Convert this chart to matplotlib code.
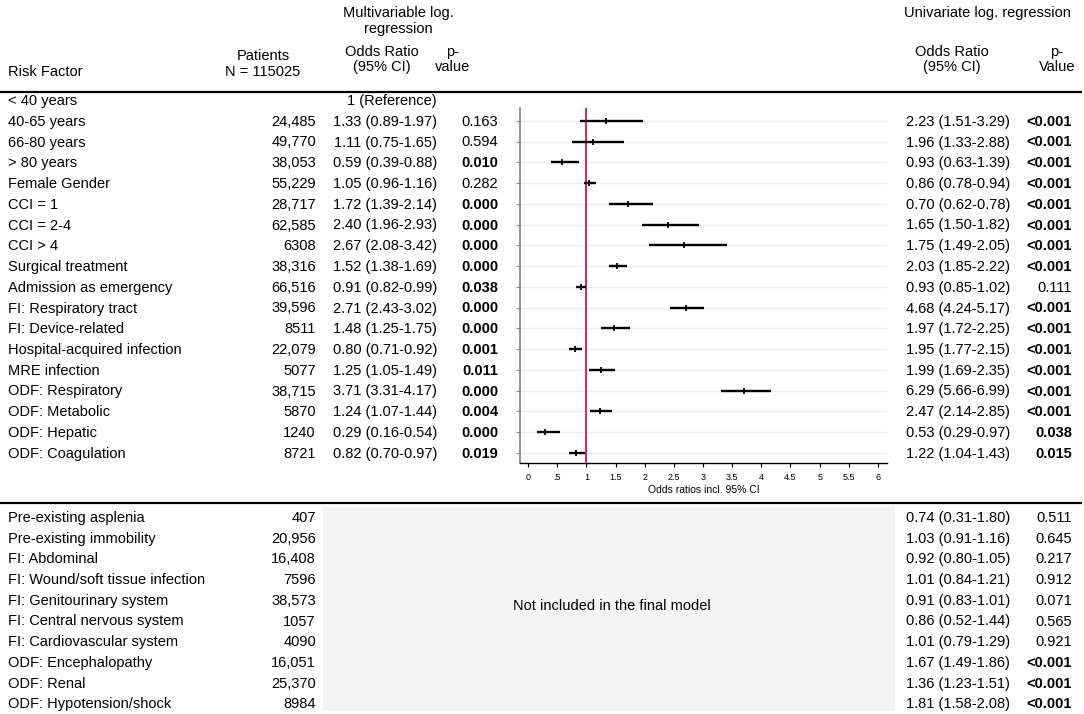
import numpy as np
import matplotlib
matplotlib.use("Agg")
import matplotlib.pyplot as plt
from matplotlib.patches import Rectangle

plt.rcParams['font.family'] = ['Liberation Sans', 'DejaVu Sans']

# ---- data: factors in the final model ----
top_labels = ["< 40 years", "40-65 years", "66-80 years", "> 80 years", "Female Gender",
              "CCI = 1", "CCI = 2-4", "CCI > 4", "Surgical treatment",
              "Admission as emergency", "FI: Respiratory tract", "FI: Device-related",
              "Hospital-acquired infection", "MRE infection", "ODF: Respiratory",
              "ODF: Metabolic", "ODF: Hepatic", "ODF: Coagulation"]
top_patients = [None, 24485, 49770, 38053, 55229, 28717, 62585, 6308, 38316,
                66516, 39596, 8511, 22079, 5077, 38715, 5870, 1240, 8721]
multi_or = [np.nan, 1.33, 1.11, 0.59, 1.05, 1.72, 2.40, 2.67, 1.52, 0.91, 2.71, 1.48,
            0.80, 1.25, 3.71, 1.24, 0.29, 0.82]
multi_lo = [np.nan, 0.89, 0.75, 0.39, 0.96, 1.39, 1.96, 2.08, 1.38, 0.82, 2.43, 1.25,
            0.71, 1.05, 3.31, 1.07, 0.16, 0.70]
multi_hi = [np.nan, 1.97, 1.65, 0.88, 1.16, 2.14, 2.93, 3.42, 1.69, 0.99, 3.02, 1.75,
            0.92, 1.49, 4.17, 1.44, 0.54, 0.97]
multi_p = [None, 0.163, 0.594, 0.010, 0.282, 0.000, 0.000, 0.000, 0.000, 0.038, 0.000,
           0.000, 0.001, 0.011, 0.000, 0.004, 0.000, 0.019]
uni_or_top = [np.nan, 2.23, 1.96, 0.93, 0.86, 0.70, 1.65, 1.75, 2.03, 0.93, 4.68, 1.97,
              1.95, 1.99, 6.29, 2.47, 0.53, 1.22]
uni_lo_top = [np.nan, 1.51, 1.33, 0.63, 0.78, 0.62, 1.50, 1.49, 1.85, 0.85, 4.24, 1.72,
              1.77, 1.69, 5.66, 2.14, 0.29, 1.04]
uni_hi_top = [np.nan, 3.29, 2.88, 1.39, 0.94, 0.78, 1.82, 2.05, 2.22, 1.02, 5.17, 2.25,
              2.15, 2.35, 6.99, 2.85, 0.97, 1.43]
uni_p_top = [None, "<0.001", "<0.001", "<0.001", "<0.001", "<0.001", "<0.001", "<0.001",
             "<0.001", "0.111", "<0.001", "<0.001", "<0.001", "<0.001", "<0.001",
             "<0.001", "0.038", "0.015"]

# ---- data: factors not in the final model ----
bot_labels = ["Pre-existing asplenia", "Pre-existing immobility", "FI: Abdominal",
              "FI: Wound/soft tissue infection", "FI: Genitourinary system",
              "FI: Central nervous system", "FI: Cardiovascular system",
              "ODF: Encephalopathy", "ODF: Renal", "ODF: Hypotension/shock"]
bot_patients = [407, 20956, 16408, 7596, 38573, 1057, 4090, 16051, 25370, 8984]
uni_or_bot = [0.74, 1.03, 0.92, 1.01, 0.91, 0.86, 1.01, 1.67, 1.36, 1.81]
uni_lo_bot = [0.31, 0.91, 0.80, 0.84, 0.83, 0.52, 0.79, 1.49, 1.23, 1.58]
uni_hi_bot = [1.80, 1.16, 1.05, 1.21, 1.01, 1.44, 1.29, 1.86, 1.51, 2.08]
uni_p_bot = ["0.511", "0.645", "0.217", "0.912", "0.071", "0.565", "0.921",
             "<0.001", "<0.001", "<0.001"]

xticks = [0, .5, 1, 1.5, 2, 2.5, 3, 3.5, 4, 4.5, 5, 5.5, 6]
xticklabels = ["0", ".5", "1", "1.5", "2", "2.5", "3", "3.5", "4", "4.5", "5", "5.5", "6"]


def fmt_n(n):
    if n is None:
        return ""
    return "{:,}".format(n) if n >= 10000 else str(n)


def is_sig(p):
    return p.startswith("<") or float(p) <= 0.05


W, H = 1084, 714
fig = plt.figure(figsize=(W / 100, H / 100), dpi=100)
ax = fig.add_axes([0, 0, 1, 1])
ax.set_xlim(0, W)
ax.set_ylim(H, 0)
ax.axis('off')

fs = 10.5
# headers
ax.text(398, 13, "Multivariable log.", ha='center', va='center', fontsize=fs)
ax.text(398, 29, "regression", ha='center', va='center', fontsize=fs)
ax.text(987, 13, "Univariate log. regression", ha='center', va='center', fontsize=fs)
ax.text(8, 72, "Risk Factor", ha='left', va='center', fontsize=fs)
ax.text(263, 56, "Patients", ha='center', va='center', fontsize=fs)
ax.text(263, 72, "N = 115025", ha='center', va='center', fontsize=fs)
ax.text(382, 52, "Odds Ratio", ha='center', va='center', fontsize=fs)
ax.text(382, 67, "(95% CI)", ha='center', va='center', fontsize=fs)
ax.text(453, 52, "p-", ha='center', va='center', fontsize=fs)
ax.text(453, 67, "value", ha='center', va='center', fontsize=fs)
ax.text(952, 52, "Odds Ratio", ha='center', va='center', fontsize=fs)
ax.text(952, 67, "(95% CI)", ha='center', va='center', fontsize=fs)
ax.text(1057, 52, "p-", ha='center', va='center', fontsize=fs)
ax.text(1057, 67, "Value", ha='center', va='center', fontsize=fs)

ax.plot([0, 1082], [92, 92], color='black', lw=1.6, solid_capstyle='butt')
ax.plot([0, 1082], [503, 503], color='black', lw=1.6, solid_capstyle='butt')

# top table
y0, dy = 100, 20.75
for i, lab in enumerate(top_labels):
    y = y0 + i * dy + 1
    ax.text(8, y, lab, ha='left', va='center', fontsize=fs)
    ax.text(316, y, fmt_n(top_patients[i]), ha='right', va='center', fontsize=fs)
    if i == 0:
        ax.text(437, y, "1 (Reference)", ha='right', va='center', fontsize=fs)
        continue
    ax.text(437, y, "%.2f (%.2f-%.2f)" % (multi_or[i], multi_lo[i], multi_hi[i]),
            ha='right', va='center', fontsize=fs)
    ps = "%.3f" % multi_p[i]
    ax.text(498, y, ps, ha='right', va='center', fontsize=fs,
            fontweight='bold' if is_sig(ps) else 'normal')
    ax.text(1010, y, "%.2f (%.2f-%.2f)" % (uni_or_top[i], uni_lo_top[i], uni_hi_top[i]),
            ha='right', va='center', fontsize=fs)
    ax.text(1072, y, uni_p_top[i], ha='right', va='center', fontsize=fs,
            fontweight='bold' if is_sig(uni_p_top[i]) else 'normal')

# bottom table
ax.add_patch(Rectangle((323, 507), 895 - 323, 711 - 507, facecolor='#f4f4f4',
                       edgecolor='none'))
ax.text(612, 606, "Not included in the final model", ha='center', va='center', fontsize=fs)
y1, dy1 = 517, 20.7
for j, lab in enumerate(bot_labels):
    y = y1 + j * dy1 + 1
    ax.text(8, y, lab, ha='left', va='center', fontsize=fs)
    ax.text(316, y, fmt_n(bot_patients[j]), ha='right', va='center', fontsize=fs)
    ax.text(1010, y, "%.2f (%.2f-%.2f)" % (uni_or_bot[j], uni_lo_bot[j], uni_hi_bot[j]),
            ha='right', va='center', fontsize=fs)
    ax.text(1072, y, uni_p_bot[j], ha='right', va='center', fontsize=fs,
            fontweight='bold' if is_sig(uni_p_bot[j]) else 'normal')

# forest plot
px_l, px_r, px_t, px_b = 520, 887, 108, 463
fx = fig.add_axes([px_l / W, 1 - px_b / H, (px_r - px_l) / W, (px_b - px_t) / H])
rows = np.arange(1, len(top_labels))
fx.set_ylim((px_b - y0) / dy, (px_t - y0) / dy)
fx.set_xlim(0 - 8 / 58.33, 6 + 9 / 58.33)
fx.set_yticks(rows)
fx.set_yticklabels([])
fx.grid(axis='y', color='#e6edf1', lw=1.0)
fx.set_axisbelow(True)
fx.axvline(1, color='#e0245a', lw=1.4, zorder=3)
est = np.array(multi_or[1:])
lo = np.array(multi_lo[1:])
hi = np.array(multi_hi[1:])
fx.hlines(rows, lo, hi, color='black', lw=1.7, zorder=4)
fx.plot(est, rows, linestyle='none', marker='|', markersize=5, mew=1.3,
        color='black', zorder=5)
fx.set_xticks(xticks)
fx.set_xticklabels(xticklabels, fontsize=6.5)
fx.set_xlabel("Odds ratios incl. 95% CI", fontsize=7.5, labelpad=2)
for s in ['top', 'right']:
    fx.spines[s].set_visible(False)
fx.spines['left'].set_color('#8a8a8a')
fx.spines['left'].set_linewidth(1.3)
fx.spines['bottom'].set_color('black')
fx.spines['bottom'].set_linewidth(1.0)
fx.tick_params(axis='y', length=3, color='#8a8a8a', width=0.8)
fx.tick_params(axis='x', length=3, width=0.8, pad=4.5)
fx.patch.set_alpha(0)

fig.savefig("out.png", dpi=100)
